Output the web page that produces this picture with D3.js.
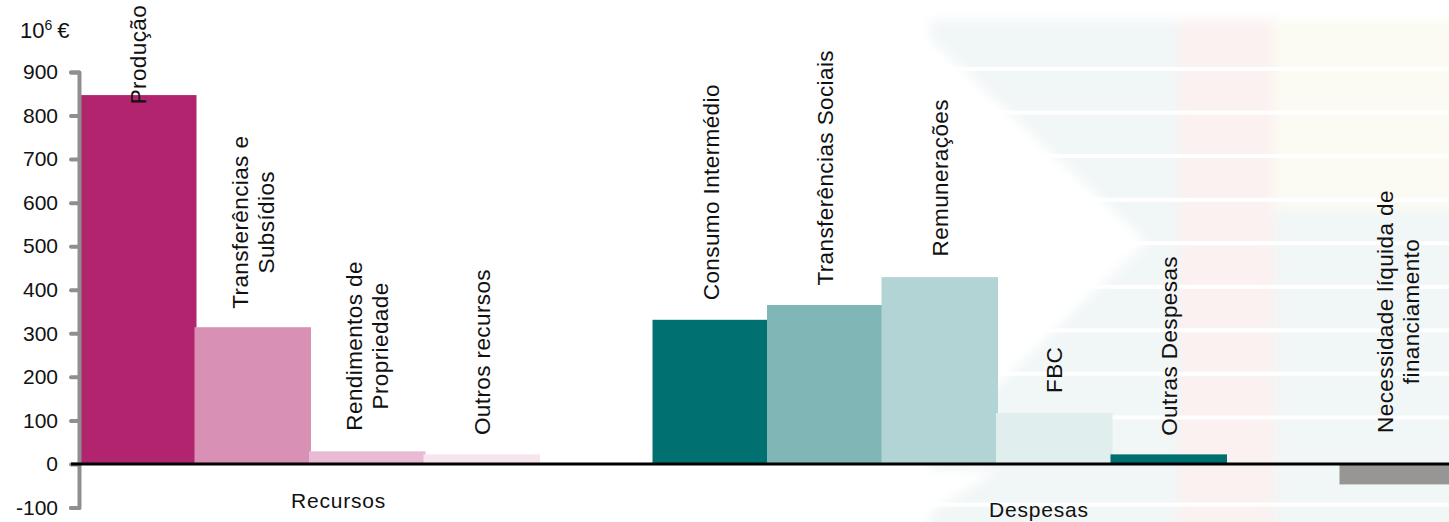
<!DOCTYPE html>
<html>
<head>
<meta charset="utf-8">
<script src="https://cdn.jsdelivr.net/npm/d3@7"></script>
<style>
  html, body { margin: 0; padding: 0; background: #ffffff; }
  svg { display: block; font-family: "Liberation Sans", Arial, sans-serif; }
</style>
</head>
<body>
<svg id="chart" width="1449" height="522"></svg>
<script>
// ---- data ----
const categories = [
  "Produção", "Transferências e Subsídios", "Rendimentos de Propriedade", "Outros recursos",
  "gap1",
  "Consumo Intermédio", "Transferências Sociais", "Remunerações", "FBC", "Outras Despesas",
  "gap2",
  "Necessidade líquida de financiamento"
];
const labelLines = [
  ["Produção"], ["Transferências e", "Subsídios"], ["Rendimentos de", "Propriedade"], ["Outros recursos"],
  [],
  ["Consumo Intermédio"], ["Transferências Sociais"], ["Remunerações"], ["FBC"], ["Outras Despesas"],
  [],
  ["Necessidade líquida  de", "financiamento"]
];
const values = [847, 314, 29, 22, null, 331, 365, 429, 117, 22, null, -47];
// value (in 10^6 €) at which each rotated label is centred
const labelAt = [940, 555, 271, 257, null, 624, 680, 657, 216, 271, null, 350];
const barColors = [
  "#b2246e", "#d990b5", "#e9bad3", "#f7e5ee", null,
  "#007070", "#80b6b6", "#b3d4d4", "#e1eeee", "#006f6f", null,
  "#979695"
];
const yTicks = [-100, 0, 100, 200, 300, 400, 500, 600, 700, 800, 900];
const groupLabels = ["Recursos", "Despesas"];
const groupAnchor = ["Outros recursos", "FBC"]; // categories near which the group label sits

// ---- layout ----
const svg = d3.select("#chart");
const W = 1449, H = 522;
const axisX = 79;

const x = d3.scaleBand().domain(categories).range([81, 1455]).paddingInner(0).paddingOuter(0);
const y = d3.scaleLinear().domain([-100, 900]).range([507.5, 72]);

// ---- faint slide background ----
const defs = svg.append("defs");
defs.append("filter").attr("id", "soft").append("feGaussianBlur").attr("stdDeviation", 6);
const bg = svg.append("g");
const tint = bg.append("g").attr("filter", "url(#soft)");
tint.append("rect").attr("x", 930).attr("y", 20).attr("width", W - 900).attr("height", H).attr("fill", "#f1f6f6");
tint.append("rect").attr("x", 1178).attr("y", 20).attr("width", 96).attr("height", H).attr("fill", "#fcf1f1");
tint.append("rect").attr("x", 1274).attr("y", 20).attr("width", W - 1250).attr("height", 190).attr("fill", "#fbfbf3");
tint.append("polygon").attr("points", "900,10 1147,242 900,480").attr("fill", "#ffffff");
tint.append("polygon").attr("points", "900,470 1000,470 900,530").attr("fill", "#ffffff");
// white gridlines of the background
bg.selectAll("line.grid").data(yTicks.filter(d => d !== 0)).join("line")
  .attr("class", "grid")
  .attr("x1", 81).attr("x2", W)
  .attr("y1", d => y(d) - 3).attr("y2", d => y(d) - 3)
  .attr("stroke", "#ffffff").attr("stroke-width", 4);

// ---- bars ----
const barData = categories.map((c, i) => ({ c, v: values[i], col: barColors[i], lines: labelLines[i], at: labelAt[i] }))
  .filter(d => d.v !== null);

svg.append("g").selectAll("rect").data(barData).join("rect")
  .attr("x", d => x(d.c) - 1)
  .attr("width", x.bandwidth() + 2)
  .attr("y", d => y(Math.max(0, d.v)))
  .attr("height", d => Math.abs(y(d.v) - y(0)))
  .attr("fill", d => d.col);

// ---- y axis ----
const yAxis = d3.axisLeft(y).tickValues(yTicks).tickSize(8).tickSizeOuter(8).tickPadding(13).tickFormat(d => String(d));
const gy = svg.append("g").attr("transform", `translate(${axisX},0)`).call(yAxis);
gy.select(".domain").attr("stroke", "#8f8f8f").attr("stroke-width", 4).attr("stroke-linejoin", "round").attr("stroke-linecap", "round").attr("fill", "none");
gy.selectAll(".tick line").attr("stroke", "#8f8f8f").attr("stroke-width", 4).attr("stroke-linecap", "round");
gy.selectAll(".tick text").attr("font-size", 21).attr("fill", "#111").attr("font-family", "Liberation Sans, Arial, sans-serif");

// ---- zero line ----
svg.append("line")
  .attr("x1", axisX - 8).attr("x2", W)
  .attr("y1", y(0)).attr("y2", y(0))
  .attr("stroke", "#000").attr("stroke-width", 3);

// ---- unit label ----
const unit = svg.append("text").attr("x", 20).attr("y", 38).attr("font-size", 22).attr("fill", "#111");
unit.append("tspan").text("10");
unit.append("tspan").attr("font-size", 14).attr("dy", -8).text("6");
unit.append("tspan").attr("dy", 8).attr("dx", 5).text("€");

// ---- rotated category labels ----
const lineGap = 26;
const lbl = svg.append("g").selectAll("g").data(barData).join("g")
  .attr("transform", d => `translate(${x(d.c) + x.bandwidth() / 2},${y(d.at)}) rotate(-90)`);
lbl.each(function (d) {
  const n = d.lines.length;
  d3.select(this).selectAll("text").data(d.lines).join("text")
    .attr("x", 0)
    .attr("y", (t, i) => (i - (n - 1) / 2) * lineGap)
    .attr("dy", "0.36em")
    .attr("text-anchor", "middle")
    .attr("font-size", 22.5)
    .attr("letter-spacing", 0.4)
    .attr("fill", "#111")
    .text(t => t);
});

// ---- group labels ----
svg.append("text").attr("x", x(groupAnchor[0]) - 86).attr("y", 508)
  .attr("text-anchor", "middle").attr("font-size", 21).attr("letter-spacing", 0.8).attr("fill", "#111").text(groupLabels[0]);
svg.append("text").attr("x", x(groupAnchor[1]) + 42).attr("y", 517)
  .attr("text-anchor", "middle").attr("font-size", 21).attr("letter-spacing", 0.8).attr("fill", "#111").text(groupLabels[1]);
</script>
</body>
</html>
